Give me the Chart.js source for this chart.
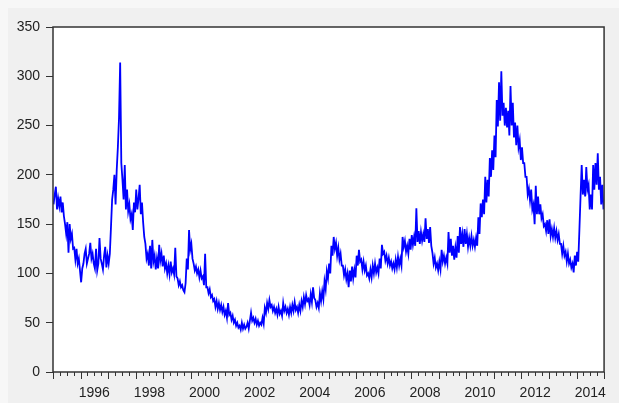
<!DOCTYPE html>
<html>
<head>
<meta charset="utf-8">
<script src="https://cdn.jsdelivr.net/npm/chart.js@4.4.1/dist/chart.umd.min.js"></script>
<style>
  html, body { margin: 0; padding: 0; background: #f0f0f0; }
  canvas { display: block; }
</style>
</head>
<body>
<canvas id="chart" width="619" height="403"></canvas>
<script>
var startYear = 1995;
var endYear = 2015;
var perYear = 24; // two readings per month

// series values (24 per year)
var values = [
  170,180, 188,165, 176,168, 178,162, 172,158, 150,140, 152,121, 150,135, 140,125, 126,114, 125,110, 115,103, // 1995
  91,105, 110,120, 125,110, 115,120, 131,115, 120,110, 105,125, 103,110, 136,115, 110,104, 118,127, 106,118,   // 1996
  110,120, 147,175, 185,200, 170,205, 228,258, 314,212, 195,175, 210,165, 185,163, 170,155, 160,144, 172,162, // 1997
  185,165, 176,190, 160,172, 152,137, 130,115, 120,108, 128,105, 134,112, 118,104, 115,105, 129,113, 120,107, // 1998
  118,105, 110,100, 108,99, 112,101, 105,99, 126,97, 95,88, 92,86, 88,83, 81,90, 115,104, 144,124,             // 1999
  130,115, 110,103, 107,100, 104,96, 103,95, 97,88, 120,86, 86,80, 84,76, 78,72, 74,66, 72,64,                 // 2000
  70,63, 68,61, 66,58, 62,55, 70,58, 60,53, 57,50, 53,47, 50,45, 47,43, 50,44, 48,44,                          // 2001
  46,50, 44,52, 60,52, 55,50, 54,48, 52,47, 50,48, 55,49, 65,60, 70,64, 73,66, 68,62,                          // 2002
  66,60, 64,58, 66,59, 62,57, 70,62, 66,60, 64,58, 66,60, 68,62, 71,63, 66,60, 68,62,                          // 2003
  72,66, 76,69, 78,72, 74,68, 79,71, 86,75, 73,66, 70,65, 80,72, 82,74, 92,84, 102,95,                         // 2004
  110,100, 128,118, 137,125, 131,118, 126,114, 120,108, 108,98, 104,94, 100,86, 103,92, 107,95, 104,96,        // 2005
  118,108, 124,112, 114,104, 112,103, 108,98, 100,95, 104,96, 108,100, 110,101, 106,100, 115,105, 129,120,     // 2006
  122,113, 118,110, 116,108, 112,105, 110,104, 114,106, 117,108, 115,108, 137,127, 133,122, 128,120, 135,124, // 2007
  139,129, 137,128, 166,132, 143,130, 142,133, 140,132, 156,135, 145,131, 147,128, 121,110, 116,106, 110,103, // 2008
  112,104, 124,112, 118,110, 116,110, 142,121, 135,118, 128,114, 126,116, 138,121, 147,130, 140,127, 145,130, // 2009
  140,127, 136,128, 138,128, 134,127, 136,128, 157,140, 171,157, 175,160, 198,172, 195,178, 217,198, 225,205, // 2010
  240,218, 276,249, 294,255, 305,260, 273,250, 268,248, 265,240, 290,250, 273,238, 253,230, 250,228, 235,215, // 2011
  228,212, 212,198, 198,180, 186,174, 185,165, 170,150, 189,160, 178,160, 170,156, 160,148, 150,143, 154,140, // 2012
  155,138, 145,137, 146,136, 143,134, 140,130, 130,120, 128,118, 122,112, 120,110, 114,106, 110,101, 118,108, // 2013
  122,112, 144,178, 210,180, 195,178, 208,185, 190,165, 180,165, 210,185, 212,190, 222,185, 198,170, 190,165  // 2014
];

var yearLabels = ['1996', '1998', '2000', '2002', '2004', '2006', '2008', '2010', '2012', '2014'];
var yMax = 350;
var yStep = 50;

var points = values.map(function(v, i) {
  return { x: startYear + (i + 0.5) / perYear, y: v };
});

// grey panel, white plot area, frame and the year/quarter tick marks
var framePlugin = {
  id: 'frame',
  beforeDraw: function(chart) {
    var ctx = chart.ctx, a = chart.chartArea;
    ctx.save();
    ctx.fillStyle = '#f7f7f7';
    ctx.fillRect(0, 0, chart.width, chart.height);
    ctx.fillStyle = '#f0f0f0';
    ctx.fillRect(8, 8, chart.width - 8, chart.height - 8);
    ctx.fillStyle = '#ffffff';
    ctx.fillRect(a.left, a.top, a.right - a.left, a.bottom - a.top);
    ctx.restore();
  },
  afterDraw: function(chart) {
    var ctx = chart.ctx, a = chart.chartArea, xs = chart.scales.x;
    ctx.save();
    ctx.strokeStyle = '#333333';
    ctx.lineWidth = 1.5;
    ctx.strokeRect(a.left, a.top, a.right - a.left, a.bottom - a.top);
    ctx.lineWidth = 1;
    for (var q = startYear * 4; q <= endYear * 4; q++) {
      var px = Math.round(xs.getPixelForValue(q / 4)) + 0.5;
      var len = (q % 4 === 0) ? 7 : 4;
      ctx.beginPath();
      ctx.moveTo(px, a.bottom);
      ctx.lineTo(px, a.bottom + len);
      ctx.stroke();
    }
    ctx.restore();
  }
};

var ctx = document.getElementById('chart').getContext('2d');
new Chart(ctx, {
  type: 'line',
  data: {
    datasets: [{
      data: points,
      borderColor: '#0000ff',
      borderWidth: 1.8,
      pointRadius: 0,
      tension: 0,
      fill: false
    }]
  },
  options: {
    responsive: false,
    animation: false,
    layout: { padding: { left: 8, top: 27, right: 5, bottom: 0 } },
    plugins: { legend: { display: false }, tooltip: { enabled: false } },
    scales: {
      x: {
        type: 'linear',
        min: startYear,
        max: endYear,
        afterBuildTicks: function(s) {
          s.ticks = yearLabels.map(function(l) { return { value: Number(l) + 0.5 }; });
        },
        afterFit: function(s) { s.height = 31; },
        grid: { display: false, drawTicks: false },
        border: { display: false },
        ticks: {
          autoSkip: false,
          maxRotation: 0,
          padding: 13,
          color: '#222',
          font: { family: 'Liberation Sans', size: 14 },
          callback: function(v) { return String(Math.floor(v)); }
        }
      },
      y: {
        min: 0,
        max: yMax,
        afterFit: function(s) { s.width = 45; },
        grid: { display: true, drawOnChartArea: false, drawTicks: true, tickLength: 7, color: '#333333' },
        border: { display: false },
        ticks: {
          stepSize: yStep,
          padding: 6,
          color: '#222',
          font: { family: 'Liberation Sans', size: 14 }
        }
      }
    }
  },
  plugins: [framePlugin]
});
</script>
</body>
</html>
